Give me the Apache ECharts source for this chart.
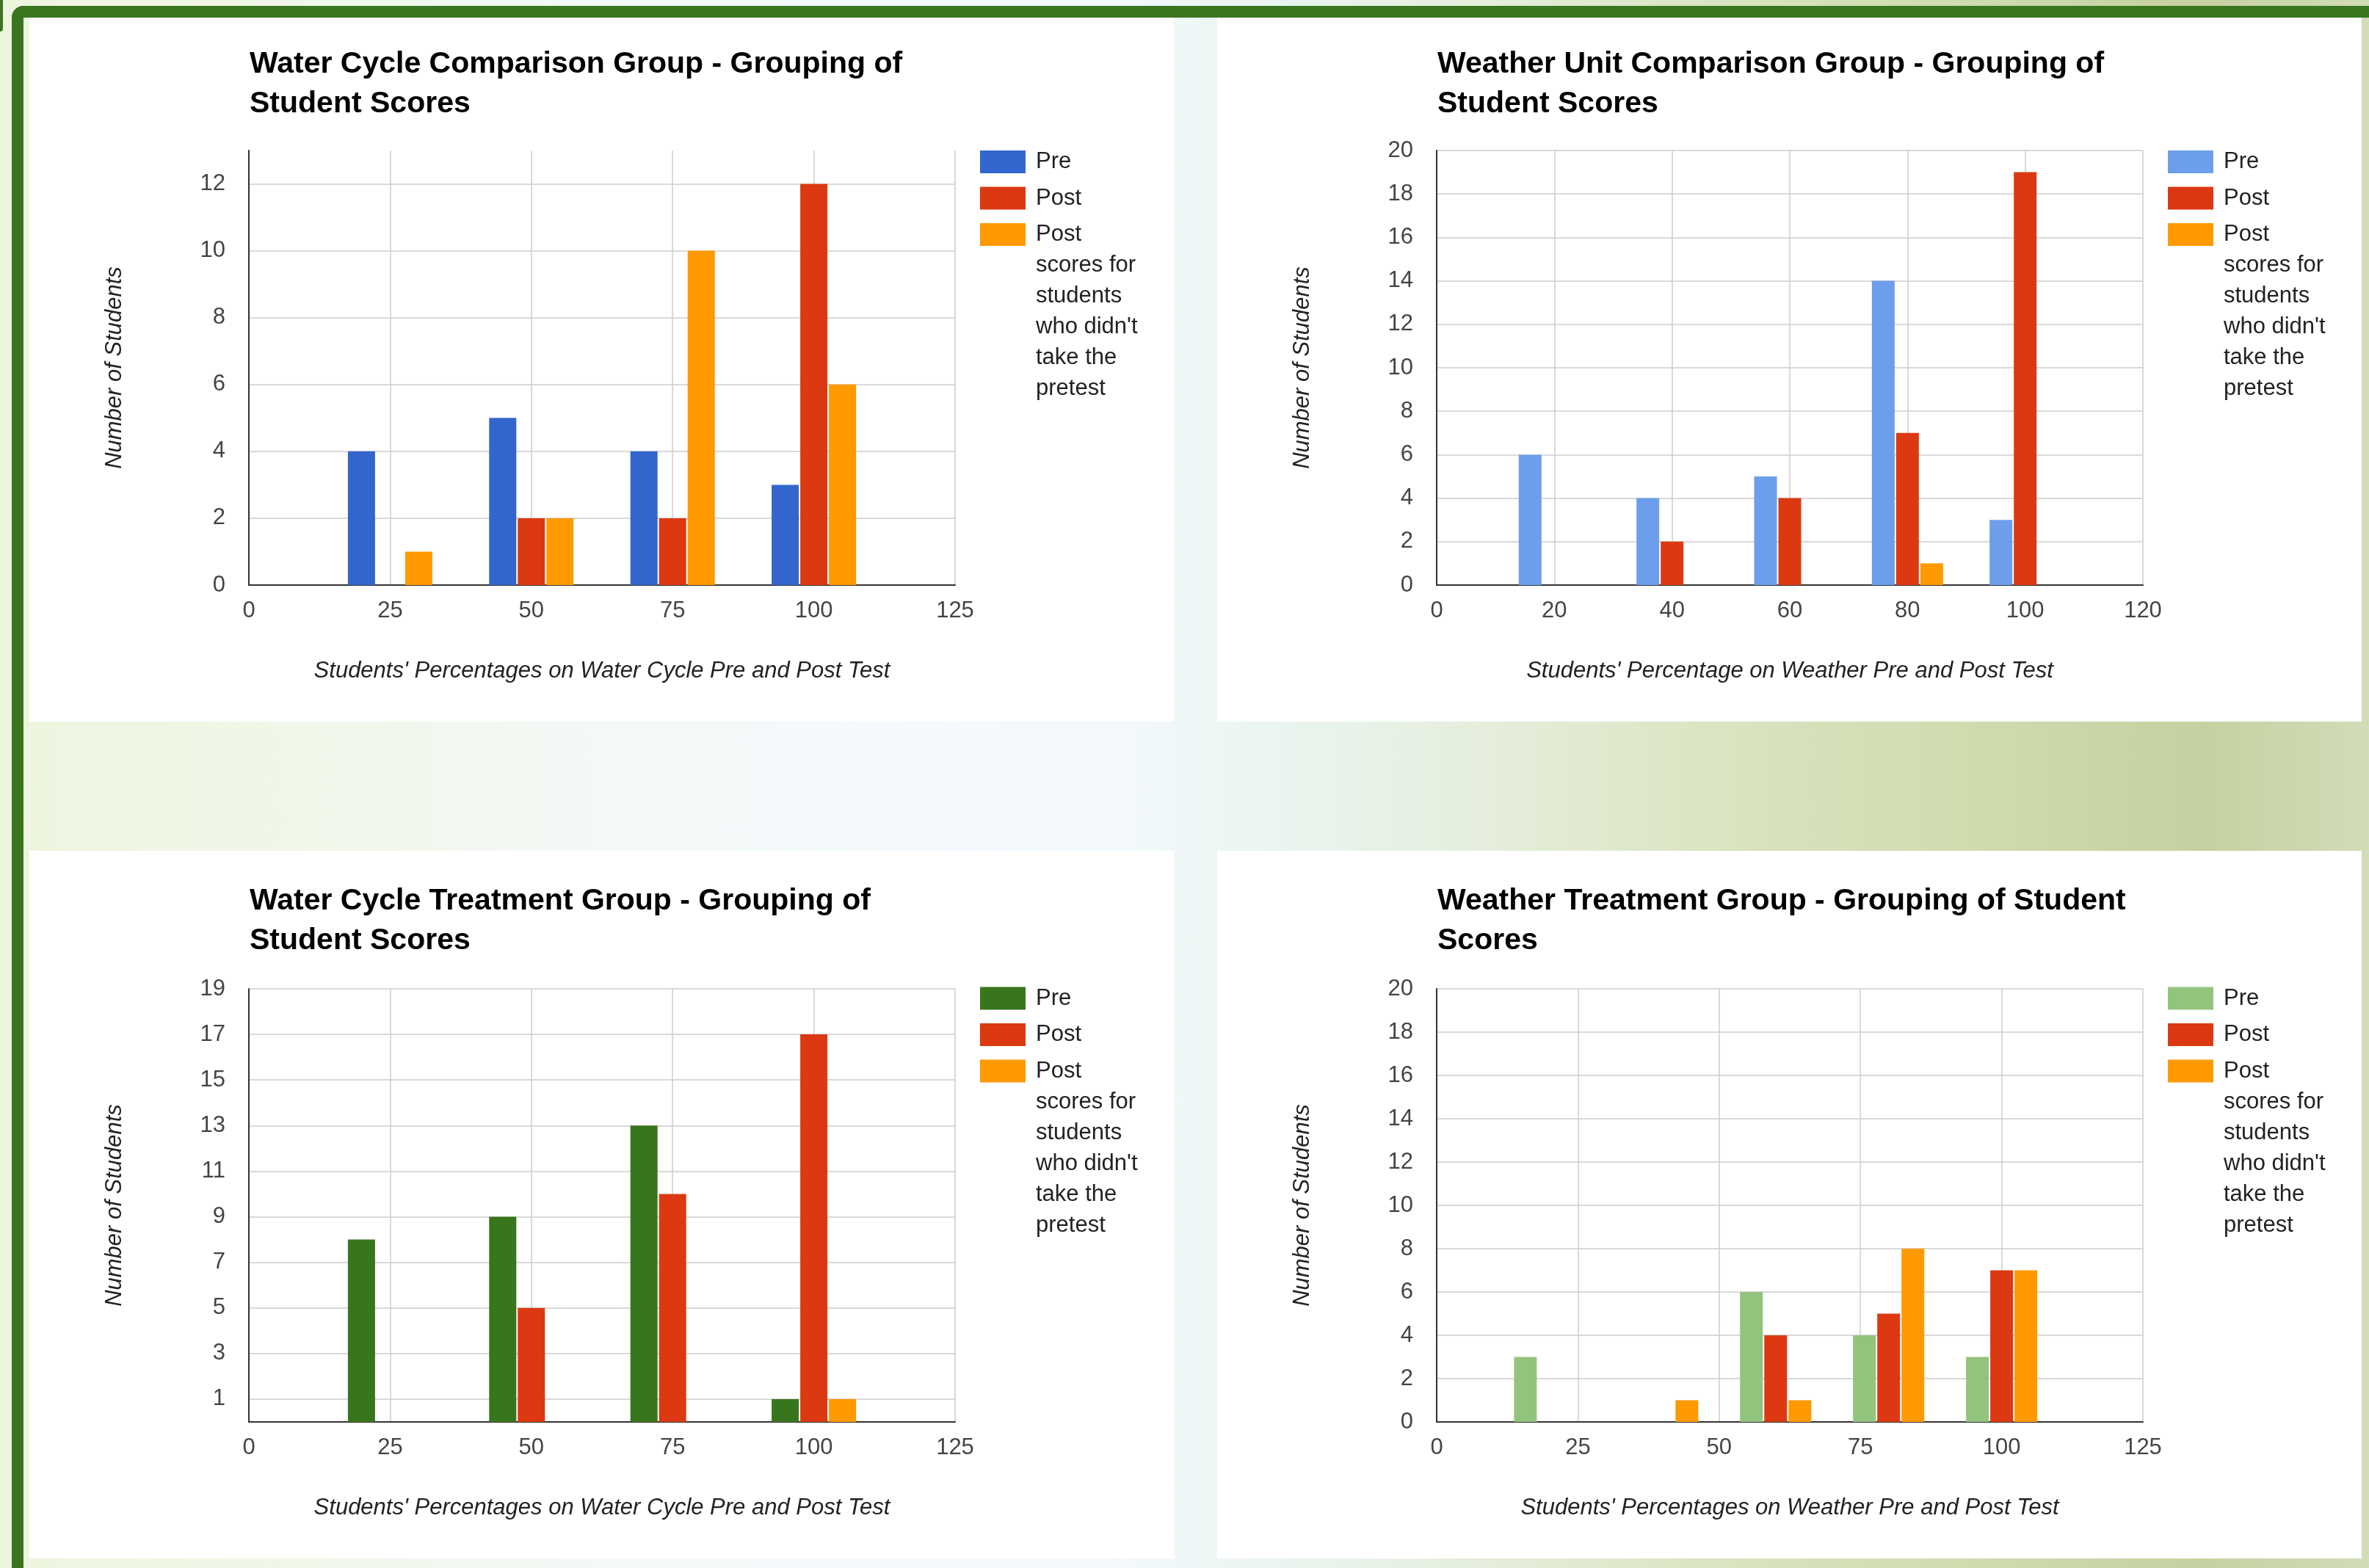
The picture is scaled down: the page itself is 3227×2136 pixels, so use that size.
<!DOCTYPE html>
<html>
<head>
<meta charset="utf-8">
<script src="https://cdn.jsdelivr.net/npm/echarts@6/dist/echarts.min.js"></script>
<style>
html,body{margin:0;padding:0;width:3227px;height:2136px;overflow:hidden;}
#bg{position:absolute;left:0;top:0;width:3227px;height:2136px;
 background:linear-gradient(to right,#eef5de 0%,#f1f7e8 12%,#f3f9f6 25%,#f4f9fd 38%,#f2f8fb 48%,#e9f4ee 55%,#e5eedb 63%,#dae5c3 72%,#d1dcb0 82%,#c6d1a1 93%,#d2dcb7 100%);}
.nub{position:absolute;left:0;top:0;width:4px;height:43px;background:#3a7620;border-bottom-right-radius:4px;}
.frameTop{position:absolute;left:16px;top:8px;width:3211px;height:16px;background:#3a7620;border-top-left-radius:16px;}
.frameLeft{position:absolute;left:16px;top:8px;width:16px;height:2128px;background:#3a7620;border-top-left-radius:16px;}
.chart{position:absolute;background:#fff;}
</style>
</head>
<body>
<div id="bg"></div>
<div class="nub"></div>
<div class="frameTop"></div>
<div class="frameLeft"></div>
<div id="c1" class="chart" style="left:40px;top:24px;width:1559px;height:959px;"></div>
<div id="c2" class="chart" style="left:1658px;top:24px;width:1559px;height:959px;"></div>
<div id="c3" class="chart" style="left:40px;top:1159px;width:1559px;height:964px;"></div>
<div id="c4" class="chart" style="left:1658px;top:1159px;width:1559px;height:964px;"></div>
<script>
// ---------- data ----------
const seriesNames = ['Pre', 'Post', "Post scores for students who didn't take the pretest"];
const legendLabels = ['Pre', 'Post', "Post\nscores for\nstudents\nwho didn't\ntake the\npretest"];
const yAxisName = 'Number of Students';

// Chart 1: Water Cycle Comparison Group
const title1 = 'Water Cycle Comparison Group - Grouping of\nStudent Scores';
const xName1 = "Students' Percentages on Water Cycle Pre and Post Test";
const groups1 = [25, 50, 75, 100];
const pre1 = [4, 5, 4, 3];
const post1 = [null, 2, 2, 12];
const noPre1 = [1, 2, 10, 6];
const yTicks1 = [0, 2, 4, 6, 8, 10, 12];

// Chart 2: Weather Unit Comparison Group
const title2 = 'Weather Unit Comparison Group - Grouping of\nStudent Scores';
const xName2 = "Students' Percentage on Weather Pre and Post Test";
const groups2 = [20, 40, 60, 80, 100];
const pre2 = [6, 4, 5, 14, 3];
const post2 = [null, 2, 4, 7, 19];
const noPre2 = [null, null, null, 1, null];
const yTicks2 = [0, 2, 4, 6, 8, 10, 12, 14, 16, 18, 20];

// Chart 3: Water Cycle Treatment Group
const title3 = 'Water Cycle Treatment Group - Grouping of\nStudent Scores';
const xName3 = "Students' Percentages on Water Cycle Pre and Post Test";
const groups3 = [25, 50, 75, 100];
const pre3 = [8, 9, 13, 1];
const post3 = [null, 5, 10, 17];
const noPre3 = [null, null, null, 1];
const yTicks3 = [1, 3, 5, 7, 9, 11, 13, 15, 17, 19];

// Chart 4: Weather Treatment Group
const title4 = 'Weather Treatment Group - Grouping of Student\nScores';
const xName4 = "Students' Percentages on Weather Pre and Post Test";
const groups4 = [20, 40, 60, 80, 100];
const pre4 = [3, null, 6, 4, 3];
const post4 = [null, null, 4, 5, 7];
const noPre4 = [null, 1, 1, 8, 7];
const yTicks4 = [0, 2, 4, 6, 8, 10, 12, 14, 16, 18, 20];

// ---------- styling ----------
const FONT = "'Liberation Sans', Arial, Helvetica, sans-serif";
const POST_COLOR = '#dc3912';
const NOPRE_COLOR = '#ff9900';

function build(cfg) {
  const vals = [cfg.pre, cfg.post, cfg.noPre];
  const colors = [cfg.preColor, POST_COLOR, NOPRE_COLOR];
  const pair = (arr) => cfg.groups.map((g, i) => [g, arr[i]]);
  const legendBase = {
    orient: 'vertical', left: 1295, padding: 0,
    itemWidth: 62, itemHeight: 31, itemGap: 7.5, icon: 'rect', selectedMode: false,
    textStyle: { fontFamily: FONT, fontSize: 31, lineHeight: 42, color: '#222', padding: [0, 0, 0, 9] }
  };
  return {
    backgroundColor: '#ffffff',
    animation: false,
    title: {
      text: cfg.title, left: 300, top: cfg.titleTop, padding: 0,
      textStyle: { fontFamily: FONT, fontSize: 41, lineHeight: 54, fontWeight: 'bold', color: '#000' }
    },
    legend: [
      Object.assign({}, legendBase, {
        top: cfg.legendTop,
        formatter: (n) => legendLabels[seriesNames.indexOf(n)],
        data: [
          { name: seriesNames[0], itemStyle: { color: colors[0] } },
          { name: seriesNames[1], itemStyle: { color: colors[1] } }
        ]
      }),
      Object.assign({}, legendBase, {
        // multi-line entry: blank leading lines keep the first text line level with its swatch
        top: cfg.legendTop - 111,
        formatter: (n) => '\n\n\n\n\n' + legendLabels[seriesNames.indexOf(n)],
        data: [
          { name: seriesNames[2], itemStyle: { color: colors[2] } }
        ]
      })
    ],
    grid: { left: 299, top: cfg.gridTop, width: 962, height: cfg.gridHeight, containLabel: false },
    xAxis: {
      type: 'value', min: 0, max: cfg.xMax, interval: cfg.xInterval,
      name: cfg.xName, nameLocation: 'middle', nameGap: 99,
      nameTextStyle: { fontFamily: FONT, fontSize: 31, lineHeight: 36, fontStyle: 'italic', color: '#222' },
      axisLine: { show: true, onZero: true, lineStyle: { color: '#333', width: 2 } },
      axisTick: { show: false },
      axisLabel: { fontFamily: FONT, fontSize: 31, lineHeight: 36, color: '#444', margin: 17 },
      splitLine: { show: true, lineStyle: { color: '#cccccc', width: 1.5 } }
    },
    yAxis: {
      type: 'value', min: 0, max: cfg.yMax,
      name: yAxisName, nameLocation: 'middle', nameGap: 165,
      nameTextStyle: { fontFamily: FONT, fontSize: 31, lineHeight: 36, fontStyle: 'italic', color: '#222' },
      axisLine: { show: true, lineStyle: { color: '#333', width: 2 } },
      axisTick: { show: false, customValues: cfg.yTicks },
      axisLabel: { customValues: cfg.yTicks, fontFamily: FONT, fontSize: 31, color: '#444', margin: 32 },
      splitLine: { show: true, lineStyle: { color: '#cccccc', width: 1.5 } }
    },
    series: seriesNames.map((n, k) => ({
      type: 'bar', name: n, data: pair(vals[k]),
      barWidth: cfg.barWidth, barGap: cfg.barGap,
      itemStyle: { color: colors[k] }
    }))
  };
}

const configs = [
  { el: 'c1', title: title1, xName: xName1, groups: groups1, pre: pre1, post: post1, noPre: noPre1,
    preColor: '#3366cc', yTicks: yTicks1, yMax: 13, xMax: 125, xInterval: 25,
    titleTop: 37, legendTop: 175.5, gridTop: 181, gridHeight: 592, barWidth: 37, barGap: '5.4%' },
  { el: 'c2', title: title2, xName: xName2, groups: groups2, pre: pre2, post: post2, noPre: noPre2,
    preColor: '#6d9eeb', yTicks: yTicks2, yMax: 20, xMax: 120, xInterval: 20,
    titleTop: 37, legendTop: 175.5, gridTop: 181, gridHeight: 592, barWidth: 31, barGap: '6.5%' },
  { el: 'c3', title: title3, xName: xName3, groups: groups3, pre: pre3, post: post3, noPre: noPre3,
    preColor: '#38761d', yTicks: yTicks3, yMax: 19, xMax: 125, xInterval: 25,
    titleTop: 42, legendTop: 180, gridTop: 188, gridHeight: 590, barWidth: 37, barGap: '5.4%' },
  { el: 'c4', title: title4, xName: xName4, groups: groups4, pre: pre4, post: post4, noPre: noPre4,
    preColor: '#93c47d', yTicks: yTicks4, yMax: 20, xMax: 125, xInterval: 25,
    titleTop: 42, legendTop: 180, gridTop: 188, gridHeight: 590, barWidth: 31, barGap: '6.5%' }
];

configs.forEach((cfg) => {
  const chart = echarts.init(document.getElementById(cfg.el), null, { renderer: 'canvas' });
  chart.setOption(build(cfg));
});
</script>
</body>
</html>
